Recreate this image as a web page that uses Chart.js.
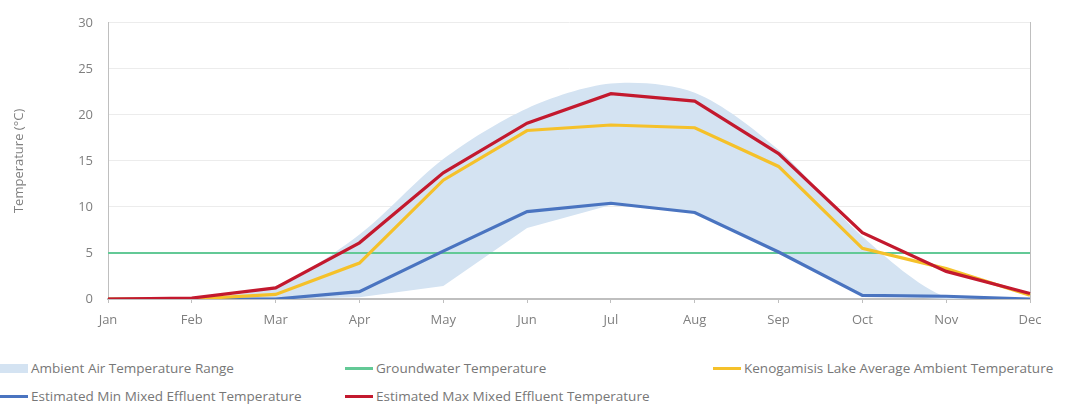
<!DOCTYPE html>
<html>
<head>
<meta charset="utf-8">
<script src="https://cdn.jsdelivr.net/npm/chart.js@4/dist/chart.umd.min.js"></script>
<style>
    body { margin: 0; background: #fff; font-family: "Open Sans", sans-serif; }
    #wrap { position: relative; width: 1073px; height: 404px; }
    #chartBox { position: absolute; left: 0; top: 0; width: 1073px; height: 340px; }
    .leg { position: absolute; font-size: 13.5px; color: #777; white-space: nowrap; line-height: 16px; }
    .sym { position: absolute; }
</style>
</head>
<body>
<div id="wrap">
    <div id="chartBox"><canvas id="chart"></canvas></div>
    <div id="legend"></div>
</div>
<script>
// 월 라벨
const months = ['Jan', 'Feb', 'Mar', 'Apr', 'May', 'Jun', 'Jul', 'Aug', 'Sep', 'Oct', 'Nov', 'Dec'];

// 값
const ambientUpper = [0, 0.1, 1.4, 7.0, 15.2, 20.7, 23.4, 22.4, 16.2, 6.8, 0.2, 0];
const ambientLower = [0, 0, 0, 0.2, 1.4, 7.7, 10.2, 9.4, 5.1, 0.4, 0, 0];
const groundwater = [5, 5, 5, 5, 5, 5, 5, 5, 5, 5, 5, 5];
const lakeAverage = [0, 0, 0.5, 3.9, 12.9, 18.3, 18.9, 18.6, 14.4, 5.5, 3.3, 0.4];
const minEffluent = [0, 0, 0, 0.8, 5.2, 9.5, 10.4, 9.4, 5.1, 0.4, 0.3, 0];
const maxEffluent = [0, 0.1, 1.2, 6.1, 13.7, 19.1, 22.3, 21.5, 15.8, 7.2, 3.0, 0.6];

const colors = {
    band: '#d4e3f2',
    ground: '#63c996',
    lake: '#f5c12a',
    min: '#4a74c0',
    max: '#c3192e',
    text: '#7f7f7f',
    axis: '#bfbfbf',
    grid: '#ececec'
};

const lineStyle = { pointRadius: 0, pointHoverRadius: 0, tension: 0, fill: false };
const tickFont = { family: 'Open Sans', size: 13 };

const ctx = document.getElementById('chart').getContext('2d');
new Chart(ctx, {
    type: 'line',
    data: {
        labels: months,
        datasets: [
            { label: 'Estimated Max Mixed Effluent Temperature', data: maxEffluent, borderColor: colors.max, borderWidth: 3.2, order: 1, ...lineStyle },
            { label: 'Kenogamisis Lake Average Ambient Temperature', data: lakeAverage, borderColor: colors.lake, borderWidth: 3.2, order: 2, ...lineStyle },
            { label: 'Estimated Min Mixed Effluent Temperature', data: minEffluent, borderColor: colors.min, borderWidth: 3.2, order: 3, ...lineStyle },
            { label: 'Groundwater Temperature', data: groundwater, borderColor: colors.ground, borderWidth: 2, order: 4, ...lineStyle },
            // 범위 하단 (보이지 않음)
            { label: 'lower', data: ambientLower, borderWidth: 0, borderColor: 'rgba(0,0,0,0)', order: 6, ...lineStyle },
            // 범위 상단 -> 하단까지 채우기
            { label: 'Ambient Air Temperature Range', data: ambientUpper, borderWidth: 0, borderColor: 'rgba(0,0,0,0)',
              order: 5, pointRadius: 0, tension: 0.3, fill: { target: 4 }, backgroundColor: colors.band }
        ]
    },
    options: {
        responsive: true,
        maintainAspectRatio: false,
        animation: false,
        layout: { padding: { top: 18, left: 0, right: 0, bottom: 0 } },
        plugins: {
            legend: { display: false },
            tooltip: { enabled: false }
        },
        scales: {
            x: {
                offset: false,
                grid: { display: true, drawOnChartArea: false, drawTicks: true, tickLength: 4, color: colors.axis },
                border: { color: colors.axis, width: 2 },
                ticks: { color: colors.text, font: tickFont, padding: 9, maxRotation: 0, autoSkip: false },
                afterFit: (axis) => { axis.height = 41; }
            },
            y: {
                min: 0,
                max: 30,
                ticks: { stepSize: 5, color: colors.text, font: tickFont, padding: 15 },
                grid: { color: colors.grid, drawTicks: false },
                border: { color: colors.axis, width: 1 },
                title: { display: true, text: 'Temperature (°C)', color: colors.text, font: { family: 'Open Sans', size: 13 }, padding: { top: 11, bottom: 4 } },
                afterFit: (axis) => { axis.width = 108; }
            },
            y2: {
                position: 'right',
                min: 0,
                max: 30,
                ticks: { display: false },
                grid: { display: false },
                border: { color: colors.axis, width: 1 },
                afterFit: (axis) => { axis.width = 43; }
            }
        }
    }
});

// 범례 (HTML로 3열 배치)
const legendItems = [
    { text: 'Ambient Air Temperature Range', type: 'box', color: colors.band, x: 0, y: 368 },
    { text: 'Groundwater Temperature', type: 'line', color: colors.ground, x: 345, y: 368 },
    { text: 'Kenogamisis Lake Average Ambient Temperature', type: 'line', color: colors.lake, x: 713, y: 368 },
    { text: 'Estimated Min Mixed Effluent Temperature', type: 'line', color: colors.min, x: 0, y: 396 },
    { text: 'Estimated Max Mixed Effluent Temperature', type: 'line', color: colors.max, x: 345, y: 396 }
];

const legendEl = document.getElementById('legend');
for (const item of legendItems) {
    const sym = document.createElement('div');
    sym.className = 'sym';
    const h = item.type === 'box' ? 9 : 3;
    sym.style.left = item.x + 'px';
    sym.style.top = (item.y - h / 2) + 'px';
    sym.style.width = '28px';
    sym.style.height = h + 'px';
    sym.style.background = item.color;
    legendEl.appendChild(sym);

    const t = document.createElement('div');
    t.className = 'leg';
    t.style.left = (item.x + 31) + 'px';
    t.style.top = (item.y - 8) + 'px';
    t.textContent = item.text;
    legendEl.appendChild(t);
}
</script>
</body>
</html>
